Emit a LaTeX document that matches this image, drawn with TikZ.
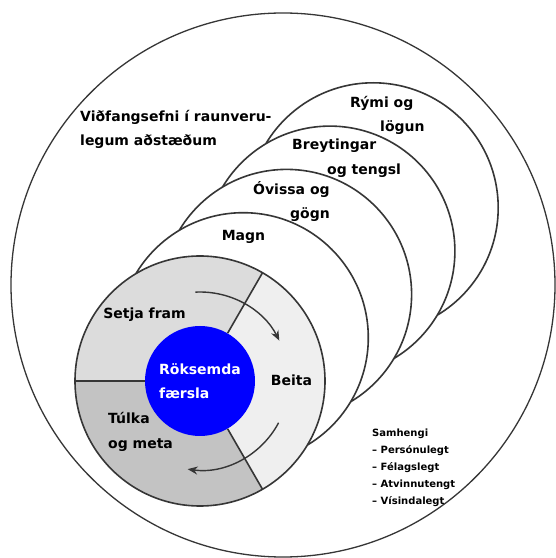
\documentclass[tikz,border=0pt]{standalone}
\usepackage{xcolor}
\usepackage{fontspec}
\setmainfont{DejaVu Sans}
\usepackage{tikz}
\usetikzlibrary{arrows.meta, positioning}

\definecolor{ringline}{HTML}{363636}
\definecolor{setjafill}{HTML}{DCDCDC}
\definecolor{beitafill}{HTML}{EFEFEF}
\definecolor{tulkafill}{HTML}{C3C3C3}

\begin{document}
\begin{tikzpicture}[x=1pt, y=1pt,
    ring/.style={draw=ringline, line width=1.6pt, fill=white},
    label/.style={font=\bfseries\fontsize{14}{24.5}\selectfont, align=left, inner sep=0pt},
    small/.style={font=\bfseries\fontsize{10}{17}\selectfont, align=left, inner sep=0pt},
    cyclearrow/.style={draw=ringline, line width=1.4pt, -{Stealth[length=10pt, width=8pt]}},
    core/.style={circle, fill=blue, minimum size=110pt, inner sep=0pt, text=white, align=left, font=\bfseries\fontsize{14}{24.5}\selectfont}]
    \useasboundingbox (0,0) rectangle (556,558);
    % outer context
    \draw[ring, line width=1.3pt] (283,273) circle[radius=272];
    % nested topic circles
    \foreach \k in {4,3,2,1}
        \draw[ring] ({200+43.3*\k},{177+43.3*\k}) circle[radius=125];
    % argument wheel
    \coordinate (hub) at (200,177);
    \fill[setjafill] (hub) -- ++(60:125) arc[start angle=60, end angle=180, radius=125] -- cycle;
    \fill[beitafill] (hub) -- ++(-60:125) arc[start angle=-60, end angle=60, radius=125] -- cycle;
    \fill[tulkafill] (hub) -- ++(180:125) arc[start angle=180, end angle=300, radius=125] -- cycle;
    \draw[ring, fill=none] (hub) circle[radius=125];
    \node[core] (core) at (hub) {Röksemda\\færsla};
    \path (hub) ++(60:125) coordinate (rimA);
    \path (hub) ++(180:125) coordinate (rimB);
    \path (hub) ++(-60:125) coordinate (rimC);
    \draw[draw=ringline, line width=1.6pt] (core.60) -- (rimA);
    \draw[draw=ringline, line width=1.6pt] (core.180) -- (rimB);
    \draw[draw=ringline, line width=1.6pt] (core.-60) -- (rimC);
    \draw[cyclearrow] (hub) ++(93:89) arc[start angle=93, end angle=27, radius=89];
    \draw[cyclearrow] (hub) ++(-28:89) arc[start angle=-28, end angle=-98, radius=89];
    % labels
    \node[label, anchor=west] (vidfang) at (80,428.5) {Viðfangsefni í raunveru-\\legum aðstæðum};
    \node[label, anchor=west] (rymi) at (350,442.5) {Rými og\\\hspace*{30pt}lögun};
    \node[label, anchor=west] (breyt) at (292,400) {Breytingar\\\hspace*{35pt}og tengsl};
    \node[label, anchor=west] (ovissa) at (253,356.5) {Óvissa og\\\hspace*{37pt}gögn};
    \node[label] (magn) at (243.5,321) {Magn};
    \node[label] (setja) at (144.5,243) {Setja fram};
    \node[label] (beita) at (291.5,178) {Beita};
    \node[label, anchor=west] (tulka) at (108,126) {Túlka\\og meta};
    \node[small, anchor=west] (samhengi) at (372,90) {Samhengi\\– Persónulegt\\– Félagslegt\\– Atvinnutengt\\– Vísindalegt};
\end{tikzpicture}
\end{document}
